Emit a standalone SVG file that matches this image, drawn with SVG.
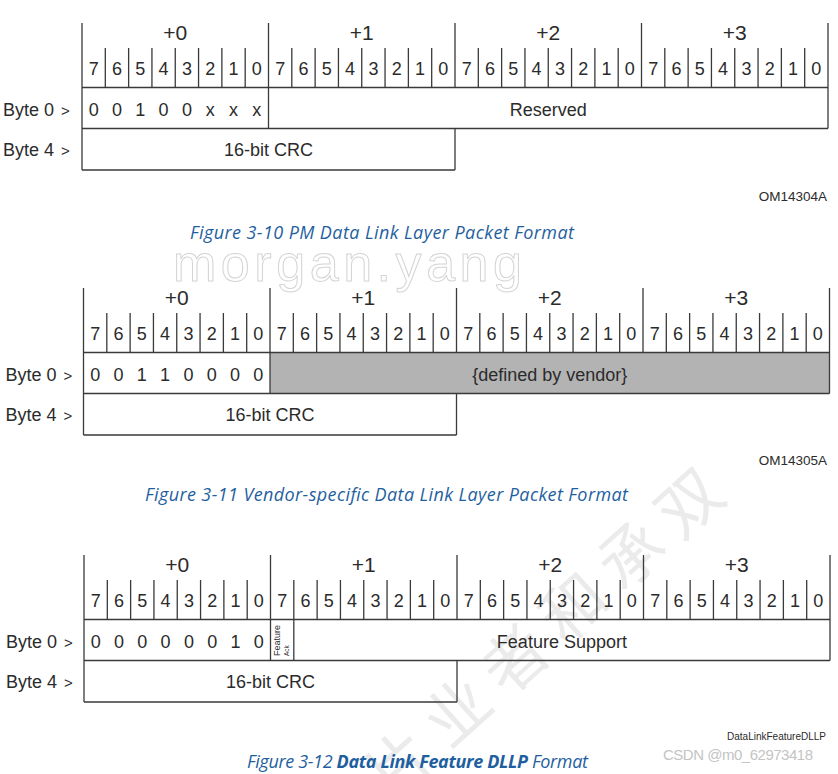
<svg xmlns="http://www.w3.org/2000/svg" xmlns:xlink="http://www.w3.org/1999/xlink" width="838" height="774" viewBox="0 0 838 774">
<style>
.ln{stroke:#3a3a3a;stroke-width:1.3;fill:none}
.t{font-family:"Liberation Sans",Arial,sans-serif;fill:#2b2b2b}
.hd{font-size:21px;text-anchor:middle}
.bit{font-size:18px;text-anchor:middle}
.val{font-size:18px;text-anchor:middle}
.lbl{font-size:18px}
.gt{font-size:15px}
.om{font-size:13.5px;text-anchor:end}
.cap{font-family:"Open Sans","Noto Sans",sans-serif;font-style:italic;font-size:18px;fill:#1f5fa0}
</style>
<defs>
<path id="ticks" d="M23.31 25V64.5M46.63 25V64.5M69.94 25V64.5M93.25 25V64.5M116.56 25V64.5M139.88 25V64.5M163.19 25V64.5M209.81 25V64.5M233.13 25V64.5M256.44 25V64.5M279.75 25V64.5M303.06 25V64.5M326.38 25V64.5M349.69 25V64.5M396.31 25V64.5M419.63 25V64.5M442.94 25V64.5M466.25 25V64.5M489.56 25V64.5M512.88 25V64.5M536.19 25V64.5M582.81 25V64.5M606.13 25V64.5M629.44 25V64.5M652.75 25V64.5M676.06 25V64.5M699.38 25V64.5M722.69 25V64.5"/>
<path id="frame" d="M0 0V147M186.5 0V64.5M373 0V64.5M559.5 0V64.5M746 0V105.5M0 64.5H746M0 105.5H746M0 147H373M373 105.5V147"/>
</defs>

<!-- watermarks -->
<g id="watermarks">
<text x="173" y="281" font-family="'Liberation Sans',Arial,sans-serif" font-size="52" fill="#ffffff" stroke="#d4d4d4" stroke-width="1" textLength="349" lengthAdjust="spacing">morgan.yang</text>
<text transform="translate(549 628) rotate(-42)" x="0" y="24" text-anchor="middle" font-family="'Noto Sans CJK SC',sans-serif" font-size="64" letter-spacing="14" fill="#ebebeb">片业者和承双</text>
</g>

<!-- Figure 3-10 -->
<g id="fig1" transform="translate(82 23)">
<use xlink:href="#ticks" class="ln"/>
<use xlink:href="#frame" class="ln"/>
<path class="ln" d="M186.5 64.5V105.5"/>
<g class="t hd"><text x="93.25" y="17">+0</text><text x="279.75" y="17">+1</text><text x="466.25" y="17">+2</text><text x="652.75" y="17">+3</text></g>
<text class="t bit" x="11.66 34.97 58.28 81.59 104.91 128.22 151.53 174.84 198.16 221.47 244.78 268.09 291.41 314.72 338.03 361.34 384.66 407.97 431.28 454.59 477.91 501.22 524.53 547.84 571.16 594.47 617.78 641.09 664.41 687.72 711.03 734.34" y="52">76543210765432107654321076543210</text>
<text class="t val" x="11.66 34.97 58.28 81.59 104.91 128.22 151.53 174.84" y="92.5">00100xxx</text>
<text class="t val" x="466.25" y="92.5">Reserved</text>
<text class="t val" x="186.5" y="133">16-bit CRC</text>
<text class="t lbl" x="-79" y="92.5">Byte 0 <tspan class="gt" dx="2">&gt;</tspan></text>
<text class="t lbl" x="-79" y="133">Byte 4 <tspan class="gt" dx="2">&gt;</tspan></text>
</g>
<text class="t om" x="827" y="201">OM14304A</text>
<text class="cap" x="190" y="239" textLength="384" lengthAdjust="spacing">Figure 3-10 PM Data Link Layer Packet Format</text>

<!-- Figure 3-11 -->
<g id="fig2" transform="translate(83.5 288)">
<rect x="186.5" y="64.5" width="559.5" height="41" fill="#b3b3b3"/>
<use xlink:href="#ticks" class="ln"/>
<use xlink:href="#frame" class="ln"/>
<path class="ln" d="M186.5 64.5V105.5"/>
<g class="t hd"><text x="93.25" y="17">+0</text><text x="279.75" y="17">+1</text><text x="466.25" y="17">+2</text><text x="652.75" y="17">+3</text></g>
<text class="t bit" x="11.66 34.97 58.28 81.59 104.91 128.22 151.53 174.84 198.16 221.47 244.78 268.09 291.41 314.72 338.03 361.34 384.66 407.97 431.28 454.59 477.91 501.22 524.53 547.84 571.16 594.47 617.78 641.09 664.41 687.72 711.03 734.34" y="52">76543210765432107654321076543210</text>
<text class="t val" x="11.66 34.97 58.28 81.59 104.91 128.22 151.53 174.84" y="92.5">00110000</text>
<text class="t val" x="466.25" y="92.5">{defined by vendor}</text>
<text class="t val" x="186.5" y="133">16-bit CRC</text>
<text class="t lbl" x="-78" y="92.5">Byte 0 <tspan class="gt" dx="2">&gt;</tspan></text>
<text class="t lbl" x="-78" y="133">Byte 4 <tspan class="gt" dx="2">&gt;</tspan></text>
</g>
<text class="t om" x="827" y="465">OM14305A</text>
<text class="cap" x="145" y="501" textLength="483" lengthAdjust="spacing">Figure 3-11 Vendor-specific Data Link Layer Packet Format</text>

<!-- Figure 3-12 -->
<g id="fig3" transform="translate(84 555)">
<use xlink:href="#ticks" class="ln"/>
<use xlink:href="#frame" class="ln"/>
<path class="ln" d="M186.5 64.5V105.5M209.81 64.5V105.5"/>
<g class="t hd"><text x="93.25" y="17">+0</text><text x="279.75" y="17">+1</text><text x="466.25" y="17">+2</text><text x="652.75" y="17">+3</text></g>
<text class="t bit" x="11.66 34.97 58.28 81.59 104.91 128.22 151.53 174.84 198.16 221.47 244.78 268.09 291.41 314.72 338.03 361.34 384.66 407.97 431.28 454.59 477.91 501.22 524.53 547.84 571.16 594.47 617.78 641.09 664.41 687.72 711.03 734.34" y="52">76543210765432107654321076543210</text>
<text class="t val" x="11.66 34.97 58.28 81.59 104.91 128.22 151.53 174.84" y="92.5">00000010</text>
<text class="t" font-size="9" transform="translate(196 101) rotate(-90)">Feature</text>
<text class="t" font-size="6.5" transform="translate(205 101) rotate(-90)">Ack</text>
<text class="t val" x="477.9" y="92.5">Feature Support</text>
<text class="t val" x="186.5" y="133">16-bit CRC</text>
<text class="t lbl" x="-78" y="92.5">Byte 0 <tspan class="gt" dx="2">&gt;</tspan></text>
<text class="t lbl" x="-78" y="133">Byte 4 <tspan class="gt" dx="2">&gt;</tspan></text>
</g>
<text class="t" x="826" y="740" font-size="10" text-anchor="end">DataLinkFeatureDLLP</text>
<text class="cap" x="247" y="768" textLength="341" lengthAdjust="spacing">Figure 3-12 <tspan font-weight="bold">Data Link Feature DLLP</tspan> Format</text>
<text x="663" y="760" font-family="'Liberation Sans',Arial,sans-serif" font-size="15" fill="#c4c4c4" textLength="150" lengthAdjust="spacing">CSDN @m0_62973418</text>
</svg>
